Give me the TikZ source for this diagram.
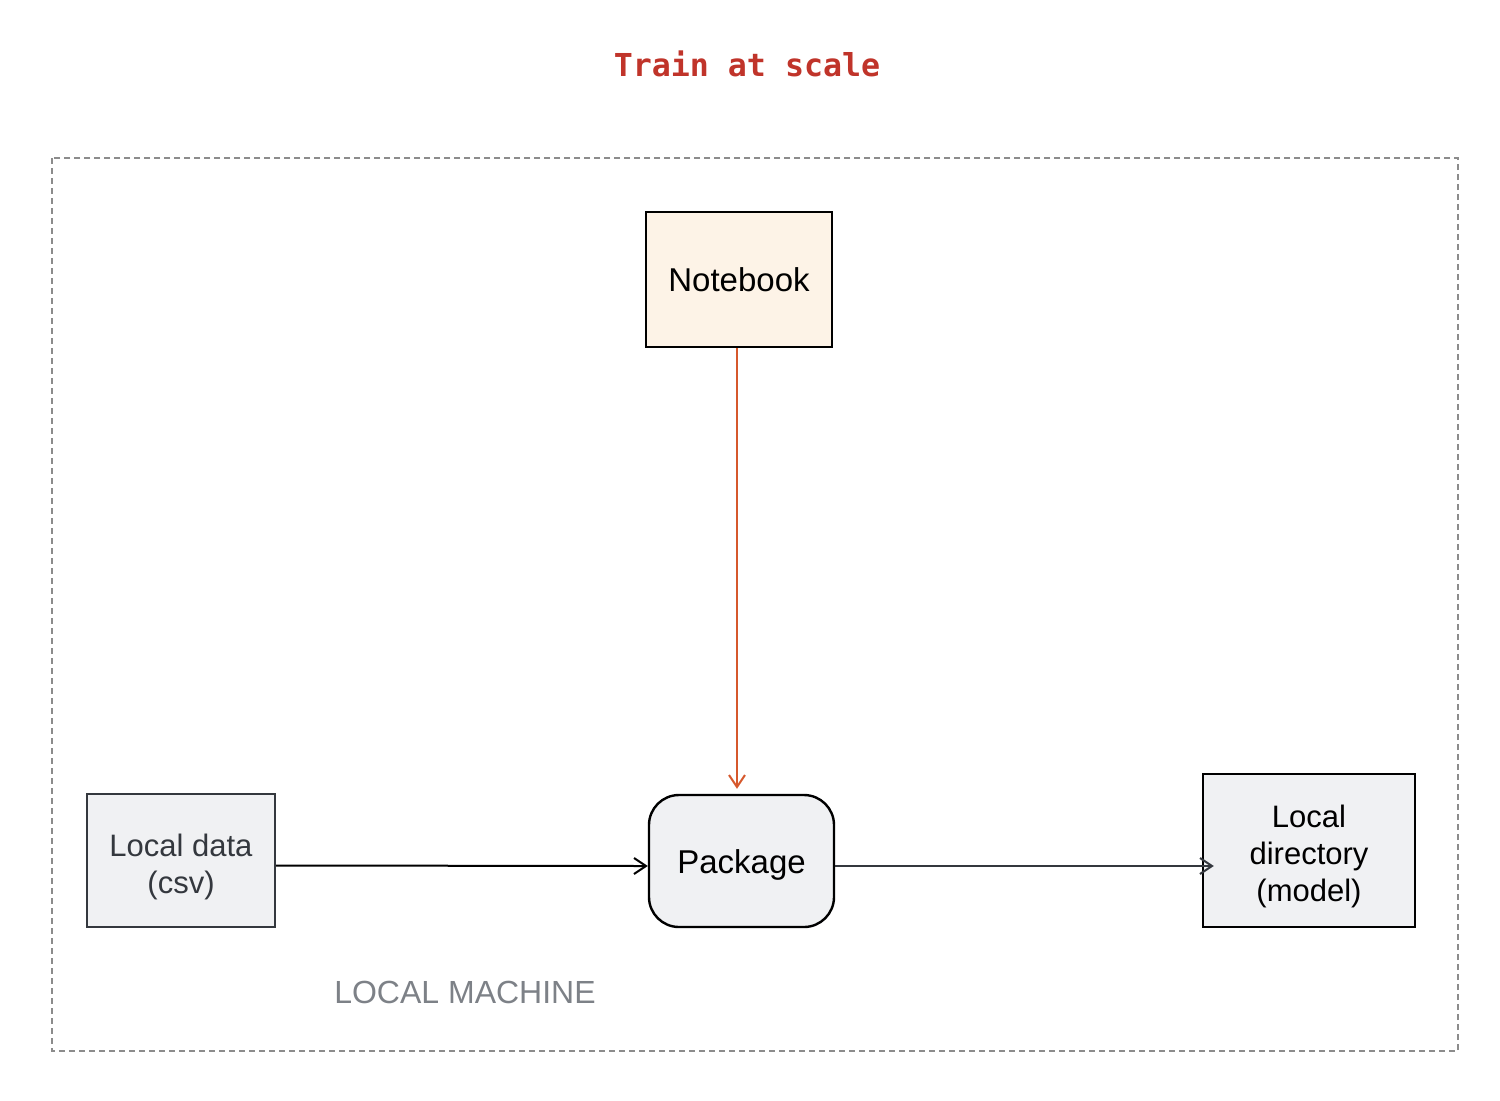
\documentclass[tikz,border=0pt]{standalone}
\usepackage{fontspec}
\setmainfont{Liberation Sans}
\newfontfamily\titlefont{DejaVu Sans Mono}
\usetikzlibrary{arrows.meta}
\definecolor{titlered}{RGB}{192,52,42}
\definecolor{nbfill}{RGB}{253,243,231}
\definecolor{boxfill}{RGB}{240,241,243}
\definecolor{orangearr}{RGB}{214,88,44}
\definecolor{darkline}{RGB}{52,56,62}
\definecolor{labelgray}{RGB}{125,129,135}
\definecolor{framegray}{RGB}{140,140,140}
\tikzset{
  box/.style={draw=black, line width=1.2pt, fill=boxfill, align=center, inner sep=0pt, font=\fontsize{15.5}{18.5}\selectfont},
  arr/.style={-{Straight Barb[length=6pt,width=8pt]}, line width=1pt},
}
\newcommand{\lowtext}[1]{\raisebox{-3.5pt}[\height][\depth]{\begin{tabular}{@{}c@{}}#1\end{tabular}}}
\begin{document}
\begin{tikzpicture}[x=0.5pt,y=-0.5pt]
\useasboundingbox (0,0) rectangle (1500,1100);
\node[font=\titlefont\bfseries\fontsize{15.8}{18}\selectfont, text=titlered] (title) at (747,64) {Train at scale};
\draw[framegray, line width=0.6pt, dash pattern=on 3pt off 2pt] (52,158) rectangle (1458,1051);
\node[box, fill=nbfill, minimum width=93pt, minimum height=67.5pt, font=\fontsize{16.5}{19}\selectfont] (nb) at (739,279.5) {Notebook};
\node[box, rounded corners=15pt, minimum width=92.5pt, minimum height=66pt, font=\fontsize{16.5}{19}\selectfont] (pkg) at (741.5,861) {\raisebox{-2pt}[\height][\depth]{Package}};
\node[box, draw=darkline, text=darkline, minimum width=94pt, minimum height=66.5pt] (data) at (181,860.5) {\lowtext{Local data\\(csv)}};
\node[box, minimum width=106pt, minimum height=76.5pt] (dir) at (1309,850.5) {\lowtext{Local\\directory\\(model)}};
\node[font=\fontsize{16}{19}\selectfont, text=labelgray] (lm) at (465,992) {LOCAL MACHINE};
\coordinate (a) at ([yshift=-2.5pt]pkg.east);
\draw[arr, orangearr] (nb.south -| 737,0) -- ([yshift=2.5pt]pkg.north -| 737,0);
\draw[arr, black] ([yshift=-2.5pt]data.east) -- ([yshift=-2.5pt]pkg.west);
\draw[arr, darkline] (a) -- ([xshift=6pt]dir.west |- a);
\end{tikzpicture}
\end{document}
